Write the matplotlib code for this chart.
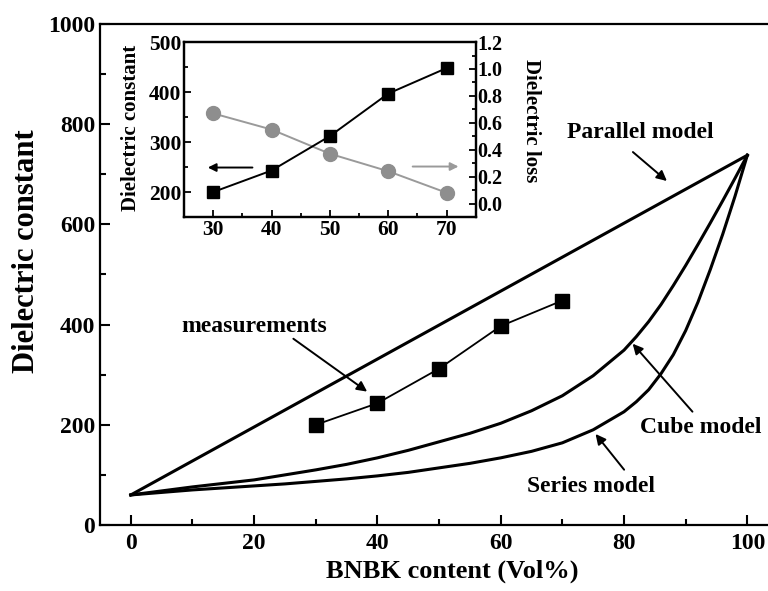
import matplotlib
matplotlib.use("Agg")
import matplotlib.pyplot as plt
from matplotlib.ticker import MultipleLocator, FormatStrFormatter

plt.rcParams['font.family'] = ['Liberation Serif', 'DejaVu Serif']
plt.rcParams['font.weight'] = 'bold'

# model curves, BNBK volume fraction (%) vs dielectric constant
parallel_x = [0, 100]
parallel_y = [60, 738]

series_x = [0, 5, 10, 15, 20, 25, 30, 35, 40, 45, 50, 55, 60, 65, 70, 75, 80,
            82, 84, 86, 88, 90, 92, 94, 96, 98, 100]
series_y = [60, 65, 70, 74, 78, 82, 87, 92, 98, 105, 114, 123, 134, 147, 164,
            190, 226, 246, 270, 302, 340, 388, 445, 510, 580, 656, 738]

cube_x = [0, 5, 10, 15, 20, 25, 30, 35, 40, 45, 50, 55, 60, 65, 70, 75, 80,
          82, 84, 86, 88, 90, 92, 94, 96, 98, 100]
cube_y = [60, 68, 76, 83, 90, 100, 110, 121, 134, 149, 166, 183, 203, 228, 258,
          298, 349, 376, 406, 440, 478, 518, 560, 603, 647, 692, 738]

# measured samples
meas_x = [30, 40, 50, 60, 70]
meas_eps = [200, 243, 312, 397, 448]
meas_loss = [0.67, 0.55, 0.37, 0.24, 0.08]

fig = plt.figure(figsize=(7.68, 5.91), dpi=100)
ax = fig.add_axes([0.1302, 0.1117, 0.883, 0.8477])

lw = 2.2
ax.plot(parallel_x, parallel_y, color='k', lw=lw)
ax.plot(cube_x, cube_y, color='k', lw=lw)
ax.plot(series_x, series_y, color='k', lw=lw)
ax.plot(meas_x, meas_eps, color='k', lw=1.3, marker='s', ms=9.5)

ax.set_xlim(-5, 105)
ax.set_ylim(0, 1000)
ax.xaxis.set_major_locator(MultipleLocator(20))
ax.xaxis.set_minor_locator(MultipleLocator(10))
ax.yaxis.set_major_locator(MultipleLocator(200))
ax.yaxis.set_minor_locator(MultipleLocator(100))
ax.tick_params(which='both', direction='in', width=1.5, labelsize=17)
ax.tick_params(which='major', length=7)
ax.tick_params(which='minor', length=4)
ax.tick_params(axis='x', pad=6)
for s in ax.spines.values():
    s.set_linewidth(1.6)
ax.set_xlabel('BNBK content (Vol%)', fontsize=19, fontweight='bold')
ax.set_ylabel('Dielectric constant', fontsize=22, fontweight='bold')
ax.xaxis.set_label_coords(0.52, -0.092)
ax.yaxis.set_label_coords(-0.108, 0.547)
for lab in (ax.xaxis.label, ax.yaxis.label):
    lab.set_va('center')
    lab.set_ha('center')

arrow = dict(arrowstyle='-|>', color='k', lw=1.4, mutation_scale=15)
ax.annotate('', xy=(87.3, 683), xytext=(81.1, 748), arrowprops=arrow)
ax.text(82.6, 784, 'Parallel model', ha='center', va='center', fontsize=17)
ax.annotate('', xy=(38.7, 263), xytext=(26, 375), arrowprops=arrow)
ax.text(20, 397, 'measurements', ha='center', va='center', fontsize=17)
ax.annotate('', xy=(81.1, 366), xytext=(91.4, 222), arrowprops=arrow)
ax.text(92.5, 194, 'Cube model', ha='center', va='center', fontsize=17)
ax.annotate('', xy=(75.1, 186), xytext=(80.3, 106), arrowprops=arrow)
ax.text(74.6, 76, 'Series model', ha='center', va='center', fontsize=17)

# inset: permittivity (left) and loss (right) of the measured samples
axi = fig.add_axes([0.2396, 0.6328, 0.380, 0.296])
axl = axi.twinx()
axl.plot(meas_x, meas_loss, color='#9a9a9a', lw=1.4, marker='o', ms=10,
         mfc='#8e8e8e', mec='#8e8e8e')
axi.plot(meas_x, meas_eps, color='k', lw=1.4, marker='s', ms=9)
axi.set_zorder(axl.get_zorder() + 1)
axi.patch.set_visible(False)

axi.set_xlim(25, 75)
axi.set_ylim(150, 500)
axl.set_ylim(-0.1, 1.2)
axi.xaxis.set_major_locator(MultipleLocator(10))
axi.xaxis.set_minor_locator(MultipleLocator(5))
axi.yaxis.set_major_locator(MultipleLocator(100))
axi.yaxis.set_minor_locator(MultipleLocator(50))
axl.yaxis.set_major_locator(MultipleLocator(0.2))
axl.yaxis.set_minor_locator(MultipleLocator(0.1))
axl.yaxis.set_major_formatter(FormatStrFormatter('%.1f'))
for a in (axi, axl):
    a.tick_params(which='both', direction='in', width=1.3, labelsize=15.5, pad=2)
    a.tick_params(which='major', length=5)
    a.tick_params(which='minor', length=3)
    for s in a.spines.values():
        s.set_linewidth(1.6)
axl.tick_params(labelsize=14.5, pad=1)
axi.set_ylabel('Dielectric constant', fontsize=15, fontweight='bold')
axl.set_ylabel('Dielectric loss', fontsize=15, fontweight='bold', rotation=270)
axi.yaxis.set_label_coords(-0.1815, 0.511)
axl.yaxis.set_label_coords(1.19, 0.549)
for lab in (axi.yaxis.label, axl.yaxis.label):
    lab.set_va('center')
    lab.set_ha('center')

axi.annotate('', xy=(28.6, 249), xytext=(37.2, 249),
             arrowprops=dict(arrowstyle='-|>', color='k', lw=1.4, mutation_scale=12))
axi.annotate('', xy=(72.5, 251), xytext=(63.7, 251),
             arrowprops=dict(arrowstyle='-|>', color='#9a9a9a', lw=1.4,
                             mutation_scale=12))

fig.savefig('out.png', dpi=100)
